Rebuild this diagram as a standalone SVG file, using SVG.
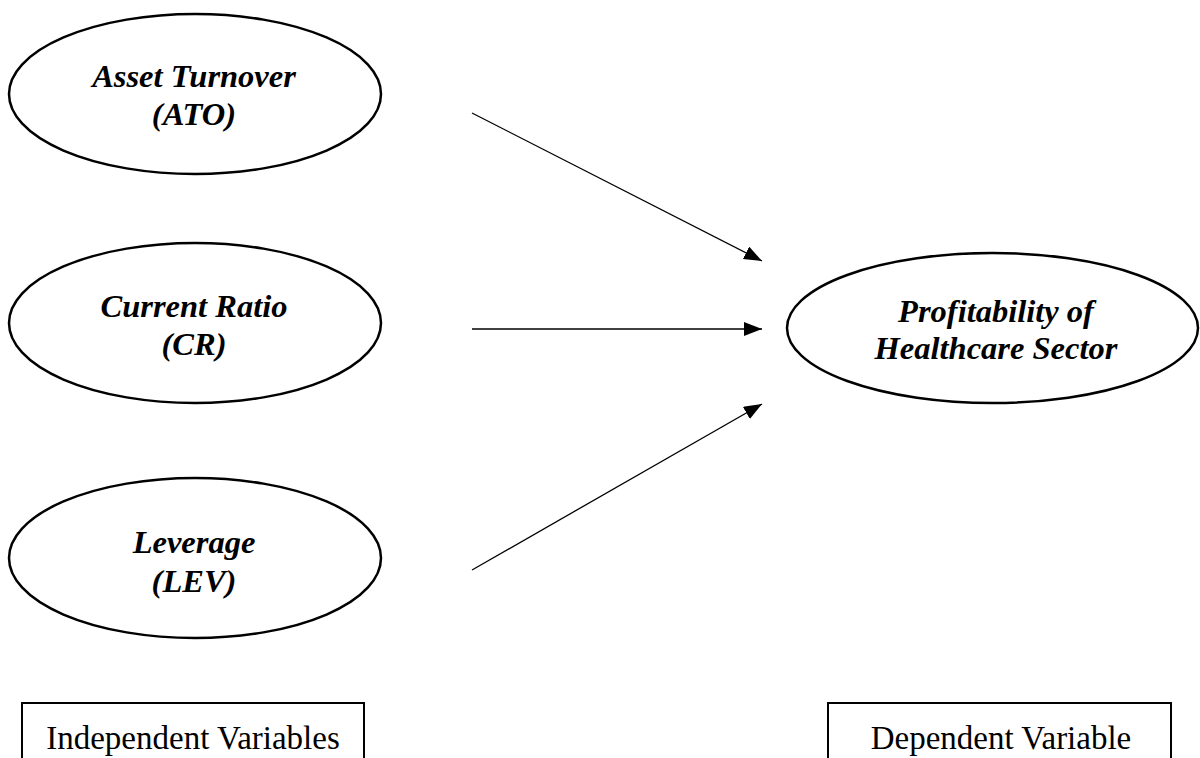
<svg xmlns="http://www.w3.org/2000/svg" width="1200" height="758" viewBox="0 0 1200 758">
  <style>
    .node { fill: #ffffff; stroke: #000000; stroke-width: 2.5; }
    .lbl { font-family: "Liberation Serif", "Times New Roman", serif; font-size: 32.5px; font-weight: bold; font-style: italic; fill: #000000; text-anchor: middle; }
    .cap { font-family: "Liberation Serif", "Times New Roman", serif; font-size: 33px; fill: #000000; text-anchor: middle; }
    .box { fill: #ffffff; stroke: #000000; stroke-width: 2; }
    .edge { stroke: #000000; stroke-width: 1.3; fill: none; marker-end: url(#arrow); }
  </style>
  <defs>
    <marker id="arrow" markerUnits="userSpaceOnUse" markerWidth="19" markerHeight="15" refX="18" refY="7" orient="auto">
      <path d="M0,0 L18,7 L0,14 z" fill="#000000"/>
    </marker>
  </defs>
  <rect width="1200" height="758" fill="#ffffff"/>

  <g id="ato">
    <ellipse class="node" cx="195" cy="94" rx="186" ry="80"/>
    <text class="lbl" x="194" y="87">Asset Turnover</text>
    <text class="lbl" x="194" y="125">(ATO)</text>
  </g>
  <g id="cr">
    <ellipse class="node" cx="195" cy="323" rx="186" ry="80"/>
    <text class="lbl" x="194" y="317">Current Ratio</text>
    <text class="lbl" x="194" y="355">(CR)</text>
  </g>
  <g id="lev">
    <ellipse class="node" cx="195" cy="558" rx="186" ry="80"/>
    <text class="lbl" x="194" y="553">Leverage</text>
    <text class="lbl" x="194" y="592">(LEV)</text>
  </g>
  <g id="profitability">
    <ellipse class="node" cx="992.5" cy="328" rx="205.5" ry="75"/>
    <text class="lbl" x="996" y="322">Profitability of</text>
    <text class="lbl" x="996" y="359">Healthcare Sector</text>
  </g>

  <g id="connectors">
    <line class="edge" x1="472" y1="113" x2="762" y2="261"/>
    <line class="edge" x1="472" y1="329" x2="762" y2="329"/>
    <line class="edge" x1="472" y1="570" x2="762" y2="404"/>
  </g>

  <g id="independent-label">
    <rect class="box" x="22" y="703" width="342" height="70"/>
    <text class="cap" x="193" y="749">Independent Variables</text>
  </g>
  <g id="dependent-label">
    <rect class="box" x="828" y="703" width="343" height="70"/>
    <text class="cap" x="1001" y="749">Dependent Variable</text>
  </g>
</svg>
